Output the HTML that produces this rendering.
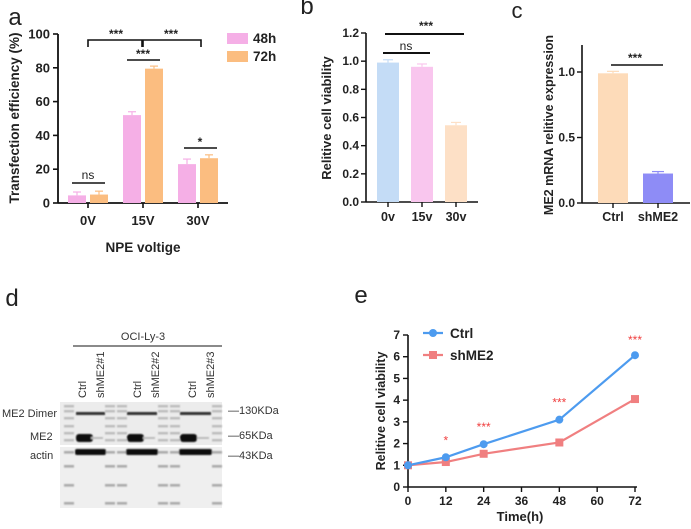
<!DOCTYPE html>
<html><head><meta charset="utf-8"><style>
html,body{margin:0;padding:0;background:#fff;width:691px;height:529px;overflow:hidden}
svg{display:block;font-family:"Liberation Sans",Arial,sans-serif}
</style></head><body>
<svg id="fig" width="691" height="529" viewBox="0 0 691 529">
<defs><filter id="bl" x="-20%" y="-20%" width="140%" height="140%"><feGaussianBlur stdDeviation="0.8"/></filter></defs>
</svg>
<script>
// ---- Panel a data
const aCats=["0V","15V","30V"];
const a48=[4.5,52,23];
const a72=[5,79.5,26.5];
const a48Err=[2,2,3];
const a72Err=[2,1.5,2];
const aTicks=[0,20,40,60,80,100];
// ---- Panel b data
const bCats=["0v","15v","30v"];
const bVals=[0.99,0.96,0.545];
const bErr=[0.02,0.02,0.02];
const bTicks=[0,0.2,0.4,0.6,0.8,1.0,1.2];
// ---- Panel c data
const cCats=["Ctrl","shME2"];
const cVals=[0.99,0.225];
const cErr=[0.015,0.015];
const cTicks=[0,0.5,1.0];
// ---- Panel e data
const eTimes=[0,12,24,48,72];
const eCtrl=[1,1.37,1.97,3.1,6.07];
const eSh=[1,1.15,1.53,2.05,4.05];
const eSig=["","*","***","***","***"];
const eXTicks=[0,12,24,36,48,60,72];
const eYTicks=[0,1,2,3,4,5,6,7];

const NS="http://www.w3.org/2000/svg";
const svg=document.getElementById('fig');
function el(tag,attrs,parent,text){const e=document.createElementNS(NS,tag);for(const k in attrs)e.setAttribute(k,attrs[k]);if(text!==undefined)e.textContent=text;(parent||svg).appendChild(e);return e;}
function grp(name){const g=el('g',{});return g;}
function line(g,x1,y1,x2,y2,w,c){return el('line',{x1,y1,x2,y2,stroke:c||'#111','stroke-width':w||1.6},g);}
function txt(g,x,y,s,opt){opt=opt||{};const t=el('text',{x,y,'text-anchor':opt.a||'middle','font-size':opt.fs||12,'font-weight':opt.fw||'bold',fill:opt.c||'#222'},g,s);if(opt.rot)t.setAttribute('transform',`rotate(-90 ${x} ${y})`);return t;}

// ===== Panel a =====
(function(){
 const g=grp('panel-a');
 const ya=v=>203-v*1.69;
 const x0=58, xEnd=228;
 const centers=[88,143,198];
 txt(g,15,25,'a',{fs:24,fw:'normal'});
 const ax=grp('panel-a-y-axis');g.appendChild(ax);
 line(ax,x0,ya(100),x0,203,1.8);
 aTicks.forEach(v=>{line(ax,x0-5,ya(v),x0,ya(v),1.6);txt(ax,x0-8,ya(v)+4.5,String(v),{a:'end',fs:13});});
 line(g,x0,203,xEnd,203,1.8);
 aCats.forEach((c,i)=>{line(g,centers[i],203,centers[i],208,1.6);txt(g,centers[i],225,c,{fs:13});});
 const yl=txt(g,19,118,'Transfection efficiency (%)',{rot:1,fs:13.5});
 const xl=txt(g,143,252,'NPE voltige',{fs:13.5});
 const cols=['#f5afe6','#fbbd80'];
 [a48,a72].forEach((ser,s)=>{
  const err=s?a72Err:a48Err;
  ser.forEach((v,i)=>{
   const x=centers[i]+(s?2:-20);
   const r=el('rect',{x,y:ya(v),width:18,height:203-ya(v),fill:cols[s]},g);
   
   line(g,x+9,ya(v),x+9,ya(v+err[i]),1.2,cols[s]);
   line(g,x+5,ya(v+err[i]),x+13,ya(v+err[i]),1.2,cols[s]);
  });
 });
 [['48h',38],['72h',56]].forEach((l,i)=>{
  const lg=grp('legend-entry-'+l[0]);g.appendChild(lg);
  el('rect',{x:227,y:l[1]-5,width:21,height:11,fill:cols[i]},lg);
  txt(lg,253,l[1]+5,l[0],{a:'start',fs:13.5});
 });
 const sg=grp('significance-a');g.appendChild(sg);
 el('path',{d:'M88 47 V40 H142 V47 M143 47 V40 H201 V47',fill:'none',stroke:'#111','stroke-width':1.6},sg);
 txt(sg,116,38,'***',{fs:12});txt(sg,171,38,'***',{fs:12});
 line(sg,127,60,160,60);txt(sg,143,58,'***',{fs:12});
 line(sg,184,148,217,148);txt(sg,200,146,'*',{fs:12});
 line(sg,72,183,105,183);txt(sg,88,179,'ns',{fs:12,fw:'normal'});
})();

// ===== Panel b =====
(function(){
 const g=grp('panel-b');
 const yb=v=>202-v*(169/1.2);
 const x0=366,xEnd=478, centers=[388,422,456];
 txt(g,307,14,'b',{fs:24,fw:'normal'});
 const ax=grp('panel-b-y-axis');g.appendChild(ax);
 line(ax,x0,yb(1.2),x0,202,1.6);
 bTicks.forEach(v=>{line(ax,x0-5,yb(v),x0,yb(v),1.4);txt(ax,x0-7,yb(v)+4,v.toFixed(1),{a:'end',fs:12});});
 line(g,x0,202,xEnd,202,1.6);
 const cols=['#c4dcf6','#f9c6ee','#fde0c6'];
 bCats.forEach((c,i)=>{
  line(g,centers[i],202,centers[i],207,1.4);txt(g,centers[i],221,c,{fs:12.5});
  const r=el('rect',{x:centers[i]-11,y:yb(bVals[i]),width:22,height:202-yb(bVals[i]),fill:cols[i]},g);
  
  const e=bVals[i]+bErr[i];
  line(g,centers[i],yb(bVals[i]),centers[i],yb(e),1.2,cols[i]);line(g,centers[i]-5,yb(e),centers[i]+5,yb(e),1.2,cols[i]);
 });
 const yl=txt(g,331,118,'Relitive cell viability',{rot:1,fs:13});
 line(g,385,34,464,34,2);txt(g,426,30,'***',{fs:12});
 line(g,383,53,430,53,2);txt(g,406,50,'ns',{fs:12,fw:'normal'});
})();

// ===== Panel c =====
(function(){
 const g=grp('panel-c');
 const yc=v=>203-v*131;
 const x0=582,xEnd=690, centers=[613,658];
 txt(g,517,18,'c',{fs:22,fw:'normal'});
 const ax=grp('panel-c-y-axis');g.appendChild(ax);
 line(ax,x0,45,x0,203,1.6);
 cTicks.forEach(v=>{line(ax,x0-5,yc(v),x0,yc(v),1.4);txt(ax,x0-7,yc(v)+4,v.toFixed(1),{a:'end',fs:12});});
 line(g,x0,203,xEnd,203,1.6);
 const cols=['#fddbb9','#8e8cf6'];
 cCats.forEach((c,i)=>{
  line(g,centers[i],203,centers[i],208,1.4);txt(g,centers[i],221,c,{fs:12.5});
  const r=el('rect',{x:centers[i]-15,y:yc(cVals[i]),width:30,height:203-yc(cVals[i]),fill:cols[i]},g);
  
  const e=cVals[i]+cErr[i];
  line(g,centers[i],yc(cVals[i]),centers[i],yc(e),1.2,cols[i]);line(g,centers[i]-6,yc(e),centers[i]+6,yc(e),1.2,cols[i]);
 });
 const yl=txt(g,553,125,'ME2  mRNA relitive expression',{rot:1,fs:12.5});
 line(g,611,65,663,65,1.6);txt(g,635,62,'***',{fs:12});
})();

// ===== Panel d (western blot) =====
(function(){
 const g=grp('panel-d');
 txt(g,12,306,'d',{fs:24,fw:'normal'});
 txt(g,143,340,'OCI-Ly-3',{fs:11,fw:'normal',c:'#333'});
 line(g,73,346,222,346,1.2,'#444');
 const lanes=[['Ctrl',82],['shME2#1',100],['Ctrl',137],['shME2#2',155],['Ctrl',192],['shME2#3',210]];
 lanes.forEach(l=>txt(g,l[1]+4,398,l[0],{rot:1,a:'start',fs:11,fw:'normal',c:'#333'}));
 const bl=grp('western-blot');g.appendChild(bl);
 el('rect',{x:60,y:402,width:162,height:43,fill:'#ececec'},bl);
 el('rect',{x:60,y:447,width:162,height:61,fill:'#efefef'},bl);
 const markers=[69,110,122,163,175,217];
 const samples=[[84,1],[97,0],[135,1],[149,0],[188,1],[203,0]];
 const bands=el('g',{filter:'url(#bl)'},bl);
 markers.forEach(x=>{
  [406,411,418,426,433,440].forEach(y=>el('rect',{x:x-5,y:y-1,width:10,height:2.4,fill:'#bbb'},bands));
  [452,466,485,503].forEach(y=>el('rect',{x:x-5,y:y-1,width:10,height:2.6,fill:'#aaa'},bands));
 });
 samples.forEach(s=>{
  el('rect',{x:s[0]-8,y:412,width:16,height:3,fill:'#333'},bands);
  if(s[1]) el('rect',{x:s[0]-8,y:434,width:17,height:8,rx:3,fill:'#111'},bands);
  else el('rect',{x:s[0]-6,y:437,width:12,height:2,fill:'#bbb'},bands);
  el('rect',{x:s[0]-9,y:449,width:18,height:6,rx:2,fill:'#111'},bands);
 });
 txt(g,2,417,'ME2 Dimer',{a:'start',fs:11,fw:'normal',c:'#333'});
 txt(g,30,440,'ME2',{a:'start',fs:11,fw:'normal',c:'#333'});
 txt(g,30,459,'actin',{a:'start',fs:11,fw:'normal',c:'#333'});
 txt(g,228,414,'—130KDa',{a:'start',fs:11,fw:'normal',c:'#333'});
 txt(g,228,439,'—65KDa',{a:'start',fs:11,fw:'normal',c:'#333'});
 txt(g,228,459,'—43KDa',{a:'start',fs:11,fw:'normal',c:'#333'});
})();

// ===== Panel e =====
(function(){
 const g=grp('panel-e');
 const xe=t=>408+t*(227/72), ye=v=>487-v*(152/7);
 txt(g,361,303,'e',{fs:24,fw:'normal'});
 const ax=grp('panel-e-axes');g.appendChild(ax);
 line(ax,408,ye(7),408,487,1.6);line(ax,408,487,xe(72)+2,487,1.6);
 eYTicks.forEach(v=>{line(ax,403,ye(v),408,ye(v),1.4);txt(ax,400,ye(v)+4,String(v),{a:'end',fs:12});});
 eXTicks.forEach(v=>{line(ax,xe(v),487,xe(v),492,1.4);txt(ax,xe(v),505,String(v),{fs:12});});
 const yl=txt(g,385,411,'Relitive cell viability',{rot:1,fs:12.5});
 const xl=txt(g,520,521,'Time(h)',{fs:13});
 const sets=[['shME2',eSh,'#f07f80','sq'],['Ctrl',eCtrl,'#4d9bef','ci']];
 sets.forEach(s=>{
  const sg=grp('series-'+s[0]);g.appendChild(sg);
  el('polyline',{points:eTimes.map((t,i)=>xe(t)+','+ye(s[1][i])).join(' '),fill:'none',stroke:s[2],'stroke-width':2.2},sg);
  eTimes.forEach((t,i)=>{
   const p=s[3]==='ci'?el('circle',{cx:xe(t),cy:ye(s[1][i]),r:4,fill:s[2]},sg):el('rect',{x:xe(t)-4,y:ye(s[1][i])-4,width:8,height:8,fill:s[2]},sg);
   
  });
 });
 eTimes.forEach((t,i)=>{if(eSig[i])txt(g,xe(t),ye(Math.max(eCtrl[i],eSh[i]))-(i===4?11:13),eSig[i],{fs:12,c:'#f04040',fw:'normal'});});
 [['Ctrl',333,'#4d9bef','ci'],['shME2',355,'#f07f80','sq']].forEach(l=>{
  const lg=grp('legend-entry-'+l[0]);g.appendChild(lg);
  line(lg,423,l[1],443,l[1],2.2,l[2]);
  if(l[3]==='ci')el('circle',{cx:433,cy:l[1],r:4,fill:l[2]},lg);else el('rect',{x:429,y:l[1]-4,width:8,height:8,fill:l[2]},lg);
  txt(lg,450,l[1]+5,l[0],{a:'start',fs:13.5});
 });
})();
</script>
</body></html>
